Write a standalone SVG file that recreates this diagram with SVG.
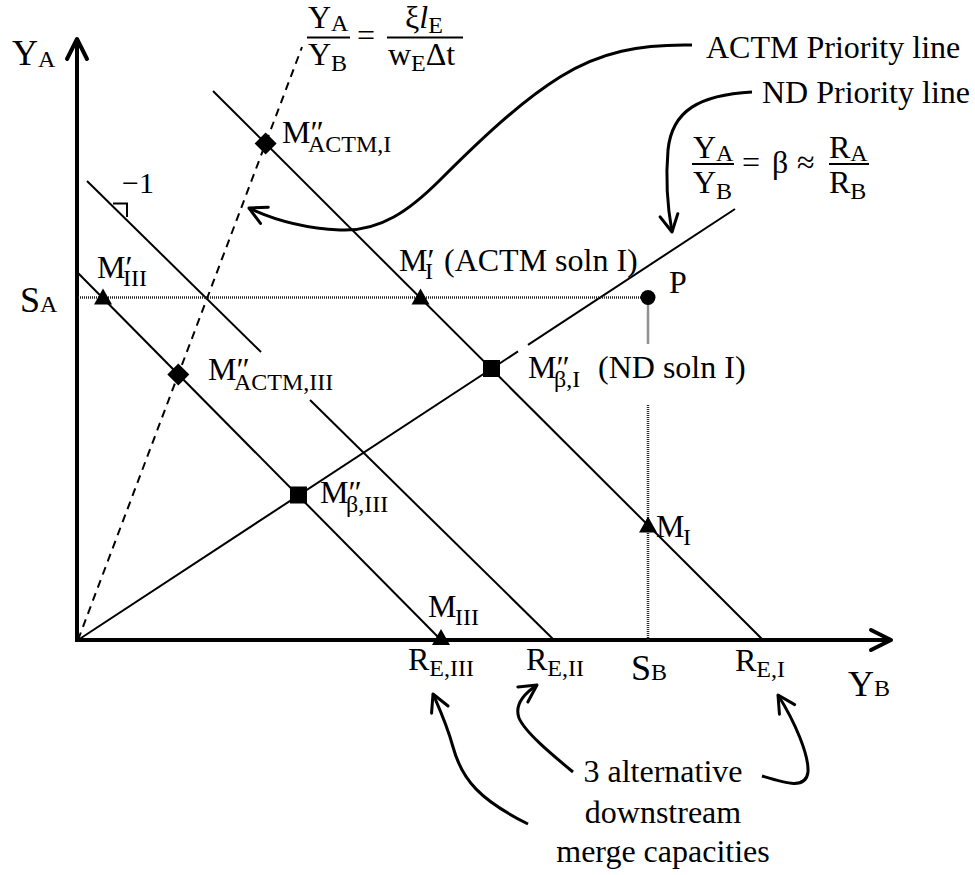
<svg xmlns="http://www.w3.org/2000/svg" width="975" height="875" viewBox="0 0 975 875">
<style>
.t{font-family:"Liberation Serif","Times New Roman",serif;font-size:32px;fill:#000}
.s{font-size:24px}
.ax{font-size:36px}
.i{font-style:italic}
.thin{stroke:#000;stroke-width:2;fill:none}
.dot{stroke:#222;stroke-width:2.5;stroke-dasharray:1 1;fill:none}
.dash{stroke:#000;stroke-width:2;stroke-dasharray:8 6;fill:none}
.curve{stroke:#000;stroke-width:3;fill:none;marker-end:url(#ah)}
.axis{stroke:#000;stroke-width:4;fill:none}
.bar{stroke:#000;stroke-width:2}
</style>
<defs>
<marker id="ah" viewBox="-20 -11 23 22" refX="0" refY="0" markerWidth="23" markerHeight="22" orient="auto" markerUnits="userSpaceOnUse">
<path d="M-17,-9 L0,0 L-17,9" fill="none" stroke="#000" stroke-width="3" stroke-linecap="round" stroke-linejoin="round"/>
</marker>
<path id="tri" d="M0,-9 L9,7 L-9,7 Z" fill="#000"/>
<rect id="sq" x="-8.5" y="-8.5" width="17" height="17" fill="#000"/>
<path id="dia" d="M0,-11 L11,0 L0,11 L-11,0 Z" fill="#000"/>
</defs>
<rect width="975" height="875" fill="#fff"/>

<g id="axes">
<path class="axis" d="M77,40 V640 H889" stroke-linejoin="miter"/>
<path class="axis" d="M67,59 L77,39 L87,59" stroke-linecap="round" stroke-linejoin="round"/>
<path class="axis" d="M871,630 L891,640 L871,650" stroke-linecap="round" stroke-linejoin="round"/>
<text class="t ax" x="12" y="65">Y<tspan class="s" dy="2">A</tspan></text>
<text class="t ax" x="20" y="312">S<tspan class="s">A</tspan></text>
<text class="t ax" x="848" y="696">Y<tspan class="s">B</tspan></text>
<text class="t ax" x="631" y="680">S<tspan class="s">B</tspan></text>
</g>

<g id="connectors">
<line class="thin" x1="213" y1="91" x2="763" y2="640"/>
<line class="thin" x1="87" y1="181" x2="261" y2="352"/>
<line class="thin" x1="310" y1="400" x2="554" y2="640"/>
<line class="thin" x1="78" y1="273" x2="441" y2="640"/>
<path class="thin" d="M113,203.5 H127 V217"/>
<line class="thin" x1="78" y1="640" x2="518" y2="351.4"/>
<line class="thin" x1="528" y1="344.8" x2="735" y2="209"/>
<line class="dash" x1="78" y1="640" x2="302" y2="47"/>
<line class="dot" x1="78" y1="297.5" x2="648" y2="297.5"/>
<line class="dot" x1="648" y1="297.5" x2="648" y2="344"/>
<line class="dot" x1="648" y1="405" x2="648" y2="640"/>
<path class="curve" d="M692,45 C640,44 600,52 560,77 C520,102 480,140 440,180 C410,210 380,232 340,230 C300,228 270,218 249,208"/>
<path class="curve" d="M752,92 C700,95 672,110 668,150 C665,185 668,210 672,232"/>
<path class="curve" d="M528,824 C480,800 462,780 453,747 C447,725 440,710 433,694"/>
<path class="curve" d="M573,772 C550,753 525,732 519,718 C514,704 525,693 537,685"/>
<path class="curve" d="M762,776 C785,783 806,790 808,772 C809,755 795,722 778,695"/>
</g>

<g id="node-P">
<circle cx="648" cy="297.5" r="7.5" fill="#000"/>
<text class="t" x="669" y="293">P</text>
</g>
<g id="node-M1pp-actm">
<use href="#dia" x="265.6" y="143.5"/>
<text class="t" x="282" y="143">M″</text>
<text class="t s" x="308" y="152">ACTM,I</text>
</g>
<g id="node-M3pp-actm">
<use href="#dia" x="178.3" y="374.4"/>
<text class="t" x="208" y="380">M″</text>
<text class="t s" x="234" y="390">ACTM,III</text>
</g>
<g id="node-M3p">
<use href="#tri" x="103" y="297.5"/>
<text class="t" x="97" y="278">M′</text>
<text class="t s" x="123" y="286">III</text>
</g>
<g id="node-M1p">
<use href="#tri" x="420.5" y="297.5"/>
<text class="t" x="399" y="271">M′</text>
<text class="t s" x="425" y="279">I</text>
<text class="t" x="444" y="271">(ACTM soln I)</text>
</g>
<g id="node-M1pp-beta">
<use href="#sq" x="491.5" y="368.5"/>
<text class="t" x="528" y="378">M″</text>
<text class="t s" x="554" y="387">β,I</text>
<text class="t" x="598" y="378">(ND soln I)</text>
</g>
<g id="node-M3pp-beta">
<use href="#sq" x="298.5" y="495"/>
<text class="t" x="320" y="503">M″</text>
<text class="t s" x="346" y="512">β,III</text>
</g>
<g id="node-M1">
<use href="#tri" x="648" y="525.5"/>
<text class="t" x="656" y="537">M</text>
<text class="t s" x="683" y="545">I</text>
</g>
<g id="node-M3">
<use href="#tri" x="441" y="638"/>
<text class="t" x="428" y="617">M</text>
<text class="t s" x="455" y="625">III</text>
</g>

<g id="labels">
<text class="t" x="408" y="670">R<tspan class="s" dy="6">E,III</tspan></text>
<text class="t" x="526" y="670">R<tspan class="s" dy="6">E,II</tspan></text>
<text class="t" x="735" y="671">R<tspan class="s" dy="6">E,I</tspan></text>
<text class="t" x="122" y="193" style="font-size:30px">−1</text>
<text class="t" x="706" y="58">ACTM Priority line</text>
<text class="t" x="762" y="103">ND Priority line</text>
<text class="t" x="663" y="782" text-anchor="middle">3 alternative</text>
<text class="t" x="663" y="823" text-anchor="middle">downstream</text>
<text class="t" x="663" y="862" text-anchor="middle">merge capacities</text>
</g>

<g id="eq-actm">
<text class="t" x="308" y="28">Y<tspan class="s" dy="3">A</tspan></text>
<line class="bar" x1="307" y1="37.5" x2="350" y2="37.5"/>
<text class="t" x="308" y="65">Y<tspan class="s" dy="6">B</tspan></text>
<text class="t" x="357" y="46">=</text>
<text class="t" x="405" y="28">ξ<tspan class="i">l</tspan><tspan class="s" dy="5">E</tspan></text>
<line class="bar" x1="387" y1="37.5" x2="463" y2="37.5"/>
<text class="t" x="388" y="65">w<tspan class="s" dy="6">E</tspan><tspan dy="-6">Δt</tspan></text>
</g>

<g id="eq-beta">
<text class="t" x="693" y="158">Y<tspan class="s" dy="3">A</tspan></text>
<line class="bar" x1="692" y1="164" x2="734" y2="164"/>
<text class="t" x="693" y="193">Y<tspan class="s" dy="6">B</tspan></text>
<text class="t" x="742" y="173">=</text>
<text class="t" x="772" y="173">β</text>
<text class="t" x="797" y="173">≈</text>
<text class="t" x="829" y="158">R<tspan class="s" dy="3">A</tspan></text>
<line class="bar" x1="829" y1="164" x2="869" y2="164"/>
<text class="t" x="829" y="193">R<tspan class="s" dy="6">B</tspan></text>
</g>
</svg>
